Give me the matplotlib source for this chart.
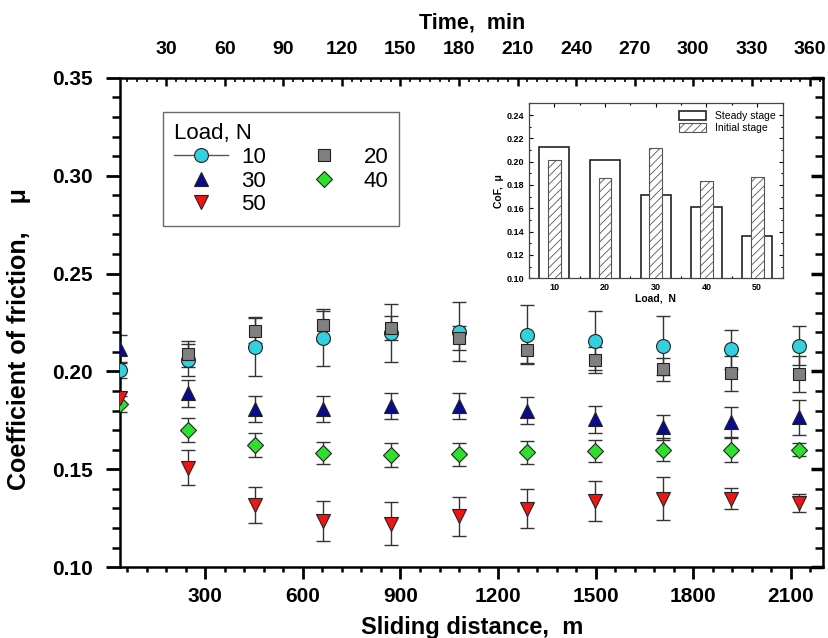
import matplotlib
matplotlib.use('Agg')
import matplotlib.pyplot as plt
from matplotlib.ticker import MultipleLocator
from matplotlib.lines import Line2D
import numpy as np

plt.rcParams['font.family'] = ['Liberation Sans', 'DejaVu Sans']

# sliding distance of each measurement, m
distance = [38, 245, 454, 663, 872, 1081, 1290, 1499, 1708, 1917, 2126]

# mean CoF and error for each load
cof_10 = [0.2008, 0.2059, 0.2127, 0.2170, 0.2196, 0.2204, 0.2187, 0.2158, 0.2131, 0.2114, 0.2132]
err_10 = [0.004, 0.008, 0.015, 0.014, 0.015, 0.015, 0.015, 0.015, 0.015, 0.010, 0.010]
cof_20 = [np.nan, 0.2090, 0.2209, 0.2238, 0.2221, 0.2170, 0.2107, 0.2059, 0.2011, 0.1991, 0.1987]
err_20 = [0.0, 0.0066, 0.0065, 0.008, 0.006, 0.006, 0.0065, 0.0065, 0.006, 0.009, 0.009]
cof_30 = [0.2114, 0.1888, 0.1809, 0.1809, 0.1823, 0.1823, 0.1799, 0.1755, 0.1714, 0.1740, 0.1765]
err_30 = [0.0073, 0.007, 0.0068, 0.0065, 0.0068, 0.0068, 0.0068, 0.0068, 0.0065, 0.0080, 0.0090]
cof_40 = [0.1833, 0.1700, 0.1624, 0.1584, 0.1572, 0.1576, 0.1586, 0.1594, 0.1601, 0.1601, 0.1601]
err_40 = [0.004, 0.0062, 0.006, 0.0058, 0.006, 0.0058, 0.0058, 0.0058, 0.006, 0.0062, 0.0035]
cof_50 = [0.1864, 0.1509, 0.1316, 0.1236, 0.1222, 0.1260, 0.1299, 0.1338, 0.1350, 0.1350, 0.1328]
err_50 = [0.003, 0.009, 0.0092, 0.010, 0.011, 0.010, 0.010, 0.010, 0.011, 0.0055, 0.0047]

loads = ['10', '20', '30', '40', '50']
time_ticks = [30, 60, 90, 120, 150, 180, 210, 240, 270, 300, 330, 360]

# inset: average CoF per load
load_n = [10, 20, 30, 40, 50]
steady = [0.2129, 0.2011, 0.1716, 0.1612, 0.1359]
initial = [0.2014, 0.1859, 0.2121, 0.1836, 0.1868]

fig = plt.figure(figsize=(8.29, 6.38), dpi=100)
ax = fig.add_axes([0.145, 0.111, 0.848, 0.767])

series = [
    (cof_10, err_10, 'o', '#35D0E0'),
    (cof_20, err_20, 's', '#808080'),
    (cof_30, err_30, '^', '#0A0A8C'),
    (cof_40, err_40, 'D', '#2EE02E'),
    (cof_50, err_50, 'v', '#EE1515'),
]
handles = []
for (y, e, m, c), lab in zip(series, loads):
    ax.errorbar(distance, y, yerr=e, fmt='none', ecolor='#333333',
                elinewidth=1.0, capsize=5, capthick=1.0, zorder=2)
    ms = 8.5 if m in ('D', 's') else 10
    h, = ax.plot(distance, y, linestyle='none', marker=m, markersize=ms,
                 markerfacecolor=c, markeredgecolor='#222222',
                 markeredgewidth=0.8, zorder=3, label=lab)
    handles.append(h)

ax.set_xlim(38, 2200)
ax.set_ylim(0.10, 0.35)

ax.xaxis.set_major_locator(MultipleLocator(300))
ax.xaxis.set_minor_locator(MultipleLocator(60))
ax.yaxis.set_major_locator(MultipleLocator(0.05))
ax.yaxis.set_minor_locator(MultipleLocator(0.01))
ax.yaxis.set_major_formatter(plt.FuncFormatter(lambda v, p: f'{v:.2f}'))

ax.tick_params(axis='x', which='major', direction='out', length=8.5,
               width=2, labelsize=15, pad=6)
ax.tick_params(axis='x', which='minor', direction='out', length=3.5, width=1.8)
ax.tick_params(axis='y', which='major', direction='out', length=10,
               width=2, labelsize=15, pad=10)
ax.tick_params(axis='y', which='minor', direction='out', length=5.5, width=1.8)
for lab in ax.get_xticklabels() + ax.get_yticklabels():
    lab.set_fontweight('bold')
for s in ax.spines.values():
    s.set_linewidth(1.8)

# right side ticks point inward
ax2 = ax.secondary_yaxis('right')
ax2.yaxis.set_major_locator(MultipleLocator(0.05))
ax2.yaxis.set_minor_locator(MultipleLocator(0.01))
ax2.tick_params(which='major', direction='in', length=9, width=2.5, labelright=False)
ax2.tick_params(which='minor', direction='in', length=6, width=1.8)

top = ax.secondary_xaxis('top', functions=(lambda d: d / 6.0, lambda t: t * 6.0))
top.set_xticks(time_ticks)
top.xaxis.set_minor_locator(MultipleLocator(5))
top.tick_params(which='major', direction='in', length=6, width=1.8,
                labelsize=14, pad=14)
top.tick_params(which='minor', direction='in', length=3, width=1.2)
for lab in top.get_xticklabels():
    lab.set_fontweight('bold')
top.set_xlabel('Time,  min', fontsize=15.5, fontweight='bold', labelpad=9)

ax.set_xlabel('Sliding distance,  m', fontsize=17, fontweight='bold', labelpad=7)
ax.set_ylabel('Coefficient of friction,    μ', fontsize=18, fontweight='bold')
ax.yaxis.set_label_coords(-0.127, 0.466)

# legend
h10 = Line2D([], [], color='#555555', linewidth=1, marker='o', markersize=10,
             markerfacecolor='#35D0E0', markeredgecolor='#222222', markeredgewidth=0.8)
leg = ax.legend([h10, handles[2], handles[4], handles[1], handles[3]],
                ['10', '30', '50', '20', '40'], ncol=2, title='Load, N',
                loc='upper left', bbox_to_anchor=(0.061, 0.93), borderaxespad=0,
                fontsize=16, title_fontsize=16, frameon=True, fancybox=False,
                edgecolor='#444444', handlelength=2.4, columnspacing=1.4,
                labelspacing=0.12, borderpad=0.5, handletextpad=0.6,
                alignment='left')
leg.get_frame().set_linewidth(1.0)

# inset bar chart
ins = fig.add_axes([0.638, 0.564, 0.306, 0.274])
plt.rcParams['hatch.linewidth'] = 0.6
ins.bar(load_n, steady, width=6, facecolor='white',
        edgecolor='#222222', linewidth=1.2, label='Steady stage', zorder=2)
ins.bar(load_n, initial, width=2.5, facecolor='white', edgecolor='#555555',
        hatch='////', linewidth=0.8, label='Initial stage', zorder=3)
ins.set_xlim(5, 55)
ins.set_ylim(0.10, 0.25)
ins.set_xticks(load_n)
ins.yaxis.set_major_locator(MultipleLocator(0.02))
ins.yaxis.set_minor_locator(MultipleLocator(0.01))
ins.xaxis.set_minor_locator(MultipleLocator(5))
ins.yaxis.set_major_formatter(plt.FuncFormatter(lambda v, p: f'{v:.2f}'))
ins.tick_params(which='both', direction='in', top=True, right=True,
                labelsize=6.5, width=0.8)
ins.tick_params(which='major', length=3)
ins.tick_params(which='minor', length=1.5)
for lab in ins.get_xticklabels() + ins.get_yticklabels():
    lab.set_fontweight('bold')
for s in ins.spines.values():
    s.set_linewidth(0.9)
    s.set_color('#444444')
ins.set_xlabel('Load,  N', fontsize=7.5, fontweight='bold', labelpad=1)
ins.set_ylabel('CoF,  μ', fontsize=7.5, fontweight='bold', labelpad=2)
ins.legend(loc='upper right', fontsize=7.5, frameon=False, handlelength=2.6,
           handleheight=1.0, labelspacing=0.2, borderaxespad=0.3)

fig.savefig('out.png', dpi=100)
